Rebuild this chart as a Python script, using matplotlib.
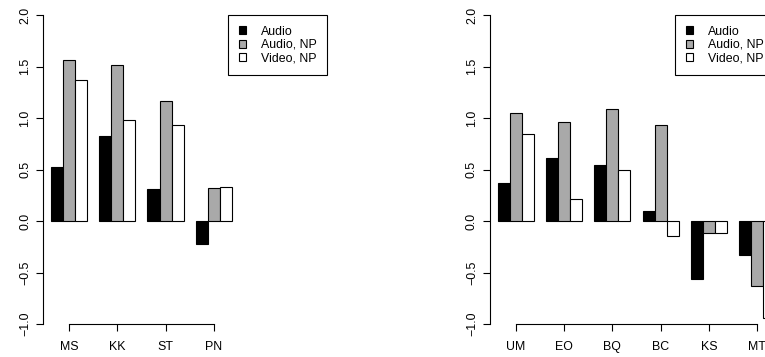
import numpy as np
import matplotlib.pyplot as plt
from matplotlib.patches import Patch

plt.rcParams['font.family'] = ['Liberation Sans', 'DejaVu Sans']

series_names = ["Audio", "Audio, NP", "Video, NP"]
series_colors = ["black", "#a9a9a9", "white"]

left_groups = ["MS", "KK", "ST", "PN"]
left_audio = [0.52, 0.825, 0.314, -0.223]
left_audio_np = [1.56, 1.511, 1.162, 0.317]
left_video_np = [1.372, 0.98, 0.929, 0.327]

right_groups = ["UM", "EO", "BQ", "BC", "KS", "MT"]
right_audio = [0.366, 0.612, 0.544, 0.094, -0.56, -0.327]
right_audio_np = [1.049, 0.958, 1.091, 0.932, -0.12, -0.631]
right_video_np = [0.841, 0.21, 0.492, -0.142, -0.12, -0.94]

W, H = 765, 357
fig = plt.figure(figsize=(W / 100, H / 100), dpi=100)

fs = 8.9
unit_px = 12.08          # one bar width in pixels
ax_w_px = 381
x0 = 0.35


def panel(left_px, groups, series):
    ax = fig.add_axes([left_px / W, 1 - 324 / H, ax_w_px / W, (324 - 15) / H])
    n = len(groups)
    g = np.arange(n)
    for i, (vals, col) in enumerate(zip(series, series_colors)):
        ax.bar(4 * g + 1 + i, vals, width=1, align='edge', color=col,
               edgecolor='black', linewidth=0.8)
    centers = 4 * g + 2.5
    ax.set_xlim(x0, x0 + ax_w_px / unit_px)
    ax.set_ylim(-1, 2)
    ax.set_xticks(centers)
    ax.set_xticklabels(groups, fontsize=fs)
    ax.set_yticks([-1, -0.5, 0, 0.5, 1, 1.5, 2])
    ax.set_yticklabels(["\u22121.0", "\u22120.5", "0.0", "0.5", "1.0", "1.5", "2.0"],
                       fontsize=fs, rotation=90, va='center')
    for s in ['top', 'right']:
        ax.spines[s].set_visible(False)
    ax.spines['left'].set_bounds(-1, 2)
    ax.spines['bottom'].set_bounds(centers[0], centers[-1])
    for s in ['left', 'bottom']:
        ax.spines[s].set_linewidth(0.8)
    ax.tick_params(axis='both', direction='out', length=5, width=0.8)
    ax.tick_params(axis='x', pad=7)
    ax.tick_params(axis='y', pad=3.5)
    handles = [Patch(facecolor=c, edgecolor='black', linewidth=0.8) for c in series_colors]
    leg = ax.legend(handles, series_names, loc='upper left',
                    bbox_to_anchor=(15.69, 2.0), bbox_transform=ax.transData,
                    fontsize=fs, frameon=True, fancybox=False, framealpha=1,
                    edgecolor='black', borderpad=0.85, borderaxespad=0,
                    handlelength=0.6, handleheight=0.6, handletextpad=1.2,
                    labelspacing=0.12)
    leg.get_frame().set_linewidth(0.8)
    return ax


panel(43, left_groups, [left_audio, left_audio_np, left_video_np])
panel(489.7, right_groups, [right_audio, right_audio_np, right_video_np])

fig.savefig("out.png", dpi=100)
